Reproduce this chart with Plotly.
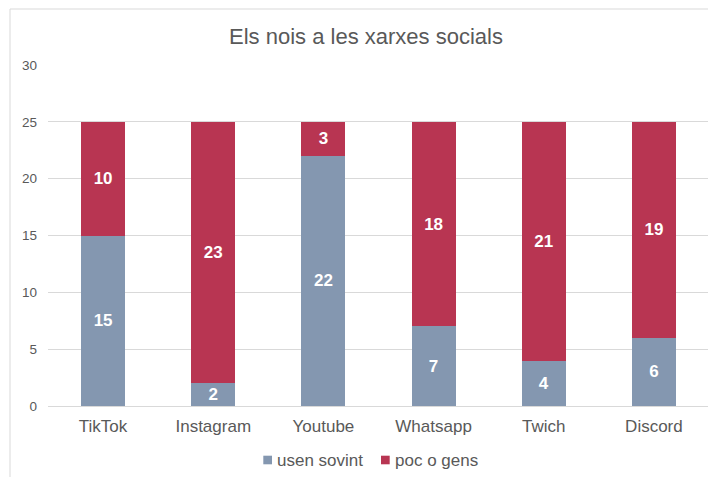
import plotly.graph_objects as go

categories = ["TikTok", "Instagram", "Youtube", "Whatsapp", "Twich", "Discord"]
usen_sovint = [15, 2, 22, 7, 4, 6]
poc_o_gens = [10, 23, 3, 18, 21, 19]
series_names = ["usen sovint", "poc o gens"]
title_text = "Els nois a les xarxes socials"

BLUE = "#8497b0"
RED = "#b83552"
GREY = "#595959"
FONT = "Liberation Sans, Arial, sans-serif"

# page body has an 8px margin; margins below compensate for it
L, R, T, B = 40, 15, 57, 79
W, H = 716, 477
PW, PH = W - L - R, H - T - B


def px(fx):
    return (fx - L) / PW


def py(fy):
    return (H - B - fy) / PH


fig = go.Figure()
colors = [BLUE, RED]
for name, vals, col in zip(series_names, [usen_sovint, poc_o_gens], colors):
    fig.add_trace(go.Bar(
        x=categories, y=vals, name=name, marker=dict(color=col, line=dict(width=0)),
        text=vals, textposition="inside", insidetextanchor="middle", textangle=0,
        constraintext="none",
        textfont=dict(color="white", size=17, family=FONT, weight="bold"),
        showlegend=False,
    ))

fig.update_layout(
    barmode="stack", bargap=0.6,
    width=W, height=H,
    margin=dict(l=L, r=R, t=T, b=B, autoexpand=False),
    paper_bgcolor="white", plot_bgcolor="white",
    font=dict(family=FONT, color=GREY),
    title=dict(text=title_text, x=0.5, xanchor="center", y=1 - 28 / H, yanchor="middle",
               font=dict(size=22, color=GREY, family=FONT)),
    showlegend=False,
)
fig.update_xaxes(showgrid=False, showline=True, linecolor="#d9d9d9", linewidth=1,
                 ticks="", tickfont=dict(size=17, color=GREY), ticklabelstandoff=5)
fig.update_yaxes(range=[0, 30], dtick=5, showgrid=True, gridcolor="#d9d9d9", gridwidth=1,
                 zeroline=False, showline=False, ticks="",
                 tickfont=dict(size=13.5, color=GREY), ticklabelstandoff=10)

# chart border
fig.add_shape(type="rect", xref="paper", yref="paper",
              x0=px(2), x1=1.2, y0=-0.4, y1=py(1),
              line=dict(color="#d9d9d9", width=1), fillcolor="rgba(0,0,0,0)", layer="below")

# custom legend
legend_sq_x = [255.3, 373.0]
legend_txt_x = [267.0, 384.7]
for name, col, sx, tx in zip(series_names, colors, legend_sq_x, legend_txt_x):
    fig.add_shape(type="rect", xref="paper", yref="paper",
                  x0=px(sx), x1=px(sx + 8.7), y0=py(456.3), y1=py(447.7),
                  line=dict(width=0), fillcolor=col)
    fig.add_annotation(xref="paper", yref="paper", x=px(tx), y=py(452),
                       xanchor="left", yanchor="middle", text=name, showarrow=False,
                       font=dict(size=17, color=GREY, family=FONT))

fig.write_html("out.html")
